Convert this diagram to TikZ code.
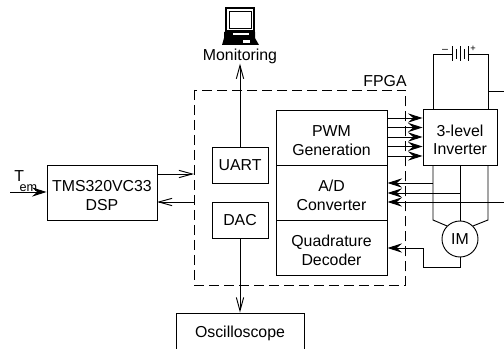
\documentclass[tikz,border=0pt]{standalone}
\usepackage{fontspec}
\setmainfont{Liberation Sans}
\usepackage{tikz}
\usetikzlibrary{arrows.meta}
\newcommand{\topgap}{\rule{0pt}{13pt}}
\tikzset{
  blockbox/.style={draw,line width=0.7pt,inner sep=0pt,align=center,font=\fontsize{11.9}{14}\selectfont},
  plainlabel/.style={inner sep=0pt,font=\fontsize{11.9}{14}\selectfont},
  wire/.style={line width=0.7pt},
  openarrow/.style={line width=0.7pt,-{Straight Barb[length=10pt,width=5.5pt,line width=0.7pt]}},
  fillarrow/.style={line width=0.7pt,-{Stealth[length=11pt,width=7pt,inset=4pt]}},
  plate/.style={line width=0.7pt}
}
\begin{document}
\begin{tikzpicture}[x=0.75pt,y=0.75pt,yscale=-1,xscale=1]
\useasboundingbox (0,0) rectangle (504,349);

% FPGA frame
\draw [wire,dash pattern={on 7.5pt off 3.75pt}] (194,90) rectangle (405.5,285);
\node (fpga) [plainlabel] at (385,81) {FPGA};

% Blocks
\node (dsp) [blockbox,minimum width=82.5pt,minimum height=41.25pt] at (102,192.5) {\topgap TMS320VC33\\DSP};
\node (uart) [blockbox,minimum width=42pt,minimum height=27pt] at (240,165) {UART};
\node (dac) [blockbox,minimum width=42pt,minimum height=27pt] at (240,220) {DAC};
\node (pwm) [blockbox,minimum width=83.25pt,minimum height=41.25pt] at (331.5,137.5) {\topgap PWM\\Generation};
\node (adc) [blockbox,minimum width=83.25pt,minimum height=41.25pt] at (331.5,192.5) {\topgap A/D\\Converter};
\node (qdec) [blockbox,minimum width=83.25pt,minimum height=41.25pt] at (331.5,247.5) {\topgap Quadrature\\Decoder};
\node (inv) [blockbox,minimum width=55.5pt,minimum height=42pt] at (460,137) {\topgap 3-level\\Inverter};
\node (im) [draw,circle,line width=0.7pt,inner sep=0pt,minimum size=27pt,font=\fontsize{11.9}{14}\selectfont] at (460,239) {IM};
\node (scope) [blockbox,minimum width=96pt,minimum height=30pt] at (240,333) {Oscilloscope};
\node (mon) [plainlabel] at (240,56) {Monitoring};
\node (tem) [plainlabel,anchor=west] at (14,176) {T};
\node (em) [inner sep=0pt,font=\fontsize{9.5}{11}\selectfont] at (28.5,188) {em};

% Computer
\draw [line width=0.9pt,fill=white] (226,8) -- (254,8) -- (254,31) -- (226,31) -- cycle;
\draw [line width=0.6pt] (229,11) -- (251,11) -- (251,28) -- (229,28) -- cycle;
\fill (224,32) -- (255,32) -- (255,38) -- (259,45) -- (222,45) -- (224,38) -- cycle;
\fill [white] (233,33) rectangle (249,35);
\fill [white] (243,40) rectangle (250,43);

% Connections
\coordinate (temin) at (10,192);
\coordinate (dspout) at (157,174);
\coordinate (dspin) at (157,202);
\coordinate (frameout) at (194,174);
\coordinate (framein) at (194,202);
\draw [fillarrow] (temin) -- (dsp.west |- temin);
\draw [openarrow] (dspout) -- (frameout);
\draw [openarrow] (framein) -- (dspin);
\draw [openarrow] (uart) -- (mon);
\draw [openarrow] (dac) -- (scope);

% PWM lines
\foreach \y in {118,127.5,137,146.5,156} {
  \draw [fillarrow] (pwm.east |- 0,\y) -- (inv.west |- 0,\y);
}

% Phase lines
\coordinate (pha) at (433,183);
\coordinate (phb) at (460,193);
\coordinate (phc) at (504,202);
\coordinate (ka) at (433,220);
\coordinate (kc) at (488,220);
\draw [wire] (pha |- inv.south) -- (ka) -- (im.135);
\draw [wire] (kc |- inv.south) -- (kc) -- (im.45);
\draw [wire] (inv) -- (im);
\draw [fillarrow] (pha) -- (pha -| adc.east);
\draw [fillarrow] (phb) -- (phb -| adc.east);
\draw [fillarrow] (phc) -- (phc -| adc.east);

% Encoder
\coordinate (enca) at (460,267);
\coordinate (encb) at (423,267);
\coordinate (encc) at (423,248);
\draw [fillarrow] (im.south) -- (enca) -- (encb) -- (encc) -- (encc -| qdec.east);

% DC link
\coordinate (dca) at (433,54);
\coordinate (dcb) at (488,54);
\coordinate (dcc) at (488,91);
\coordinate (dcd) at (504,91);
\coordinate (bata) at (452,54);
\coordinate (batb) at (468,54);
\draw [wire] (pha |- inv.north) -- (dca) -- (bata);
\draw [wire] (batb) -- (dcb) -- (dcb |- inv.north);
\draw [wire] (dcc) -- (dcd);
\foreach \x/\h in {452/7.5,456/5,460/7.5,464/5,468/7.5} {
  \draw [plate] (\x,54-\h) -- (\x,54+\h);
}
\node (minus) [inner sep=0pt,font=\fontsize{8}{9}\selectfont] at (445,51) {--};
\node (plus) [inner sep=0pt,font=\fontsize{7}{8}\selectfont] at (473,49) {+};

\end{tikzpicture}
\end{document}
